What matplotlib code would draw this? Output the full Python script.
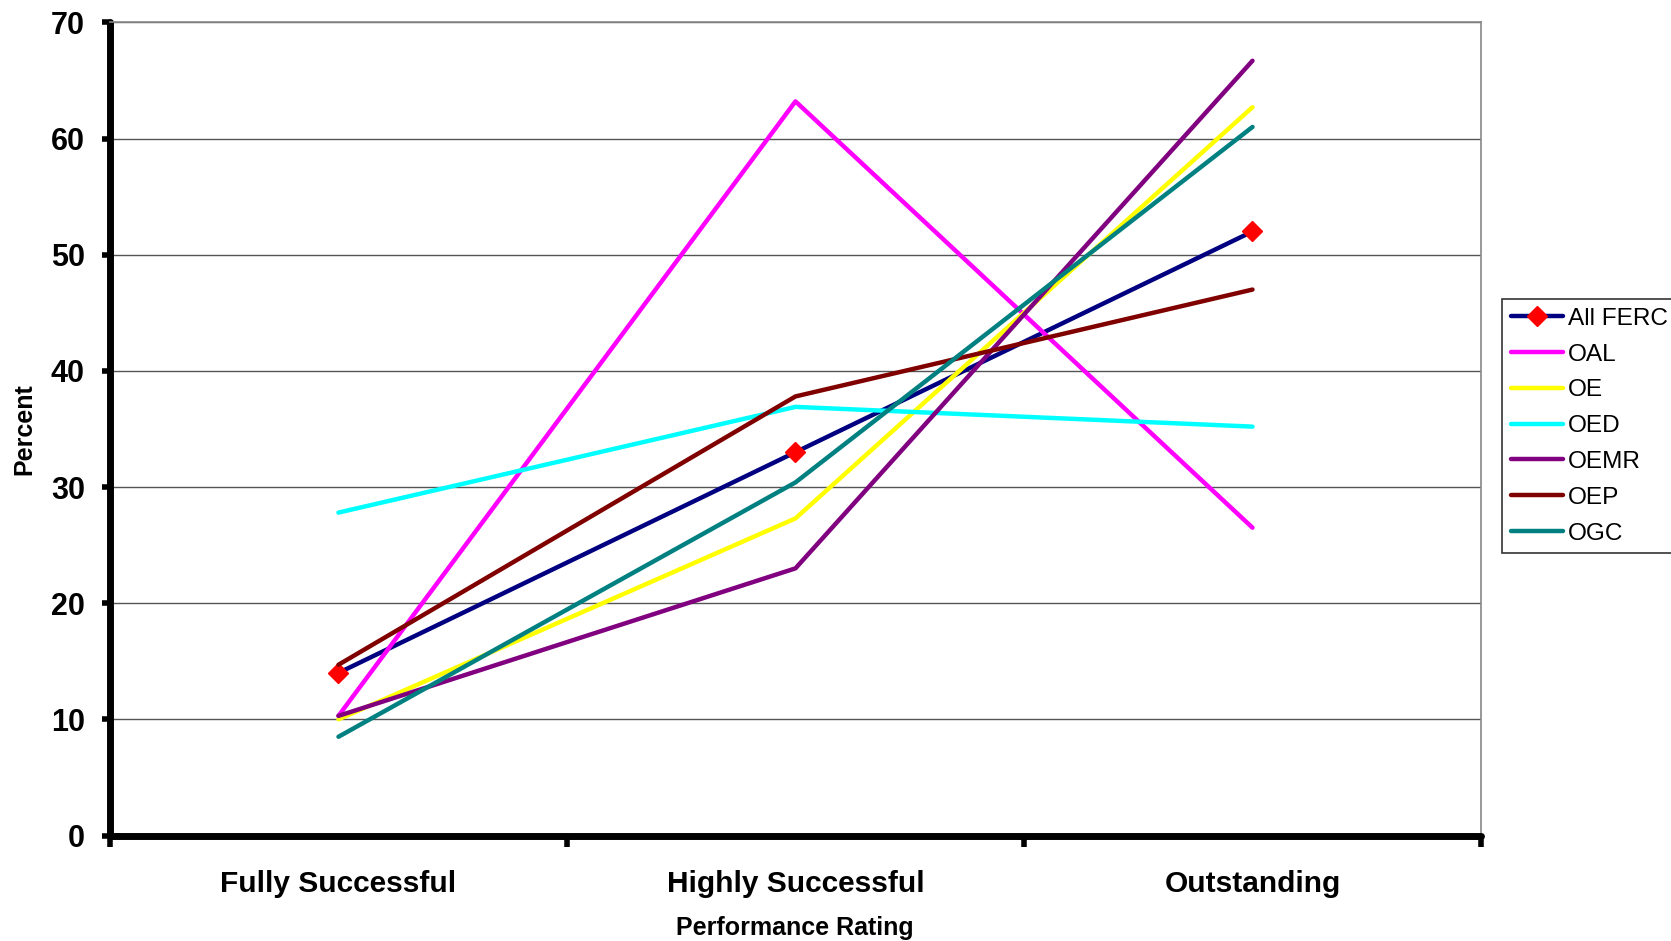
"""
Percent of employees by performance rating, per office
"""

import matplotlib.pyplot as plt
import numpy as np

plt.rcParams['font.family'] = ['Liberation Sans', 'DejaVu Sans']

# Data
ratings = ['Fully Successful', 'Highly Successful', 'Outstanding']
all_ferc = [14.0, 33.0, 52.0]
oal = [10.3, 63.2, 26.5]
oe = [10.0, 27.3, 62.7]
oed = [27.8, 36.9, 35.2]
oemr = [10.3, 23.0, 66.7]
oep = [14.7, 37.8, 47.0]
ogc = [8.5, 30.4, 61.0]

series = [
    ('OAL', oal, '#ff00ff'),
    ('OE', oe, '#ffff00'),
    ('OED', oed, '#00ffff'),
    ('OEMR', oemr, '#800080'),
    ('OEP', oep, '#800000'),
    ('OGC', ogc, '#008080'),
]

fig = plt.figure(figsize=(16.71, 9.41), dpi=100)
ax = fig.add_axes([0.0658, 0.1121, 0.8205, 0.8641])

x = np.arange(len(ratings)) + 0.5

# gridlines
for yv in range(10, 80, 10):
    ax.axhline(yv, color='#555555', lw=1, zorder=1)

ax.plot(x, all_ferc, color='#000080', lw=3.2, marker='D', ms=10,
        mfc='red', mec='red', label='All FERC', zorder=3, solid_capstyle='round')
for name, vals, col in series:
    ax.plot(x, vals, color=col, lw=3.2, label=name, zorder=3, solid_capstyle='round')

ax.set_xlim(0, 3)
ax.set_ylim(0, 70)
ax.set_yticks(range(0, 80, 10))
ax.set_xticks([0, 1, 2, 3])
ax.set_xticklabels([])
ax.set_xticks(x, minor=True)
ax.set_xticklabels(ratings, minor=True, fontsize=21.5, fontweight='bold')
ax.tick_params(axis='x', which='minor', length=0, pad=25)
ax.tick_params(axis='x', which='major', length=8, width=4, direction='out')
ax.tick_params(axis='y', length=6, width=4, direction='out', labelsize=22, pad=12)
for lab in ax.get_yticklabels():
    lab.set_fontweight('bold')

ax.spines['left'].set_linewidth(5)
ax.spines['bottom'].set_linewidth(5)
ax.spines['top'].set_color('#888888')
ax.spines['right'].set_color('#888888')
ax.spines['top'].set_linewidth(1.2)
ax.spines['right'].set_linewidth(1.2)
ax.spines['left'].set_capstyle('round')
ax.spines['bottom'].set_capstyle('round')

fig.text(0.4758, 0.0138, 'Performance Rating', ha='center', va='center',
         fontsize=18, fontweight='bold')
fig.text(0.0145, 0.5436, 'Percent', ha='center', va='center', rotation=90,
         fontsize=18, fontweight='bold')

leg = fig.legend(loc='upper left', bbox_to_anchor=(0.8989, 0.6822),
                 fontsize=17.6, frameon=True, fancybox=False, handlelength=2.15,
                 handletextpad=0.2, borderpad=0.35, labelspacing=0.56,
                 borderaxespad=0)
leg.get_frame().set_edgecolor('black')
leg.get_frame().set_linewidth(1.2)

fig.savefig('out.png', dpi=100)
